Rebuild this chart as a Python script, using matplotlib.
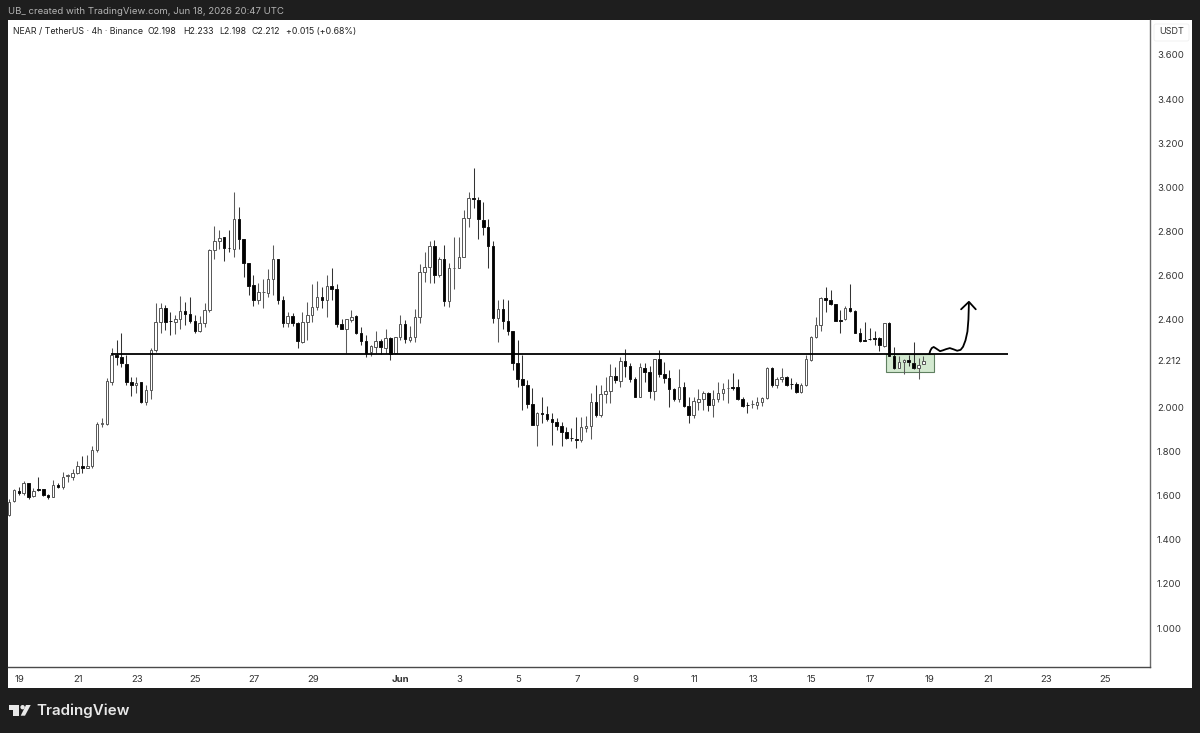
import matplotlib
matplotlib.use("Agg")
import matplotlib.pyplot as plt
from matplotlib.patches import Rectangle, Polygon, Circle, FancyBboxPatch

opens = [1.513,1.576,1.623,1.611,1.656,1.599,1.629,1.629,1.604,1.596,1.649,1.641,1.690,1.687,1.702,1.735,1.725,1.737,1.808,1.926,
1.926,2.118,2.239,2.228,2.196,2.116,2.103,2.115,2.024,2.080,2.261,2.390,2.450,2.393,2.390,2.400,2.438,2.425,2.394,2.348,
2.382,2.443,2.715,2.757,2.773,2.726,2.720,2.854,2.764,2.655,2.555,2.488,2.524,2.522,2.582,2.673,2.488,2.382,2.416,2.385,
2.299,2.390,2.420,2.458,2.500,2.488,2.553,2.540,2.379,2.357,2.397,2.416,2.340,2.304,2.254,2.277,2.304,2.272,2.314,2.246,
2.322,2.379,2.307,2.322,2.410,2.617,2.639,2.733,2.602,2.673,2.485,2.632,2.632,2.682,2.859,2.949,2.942,2.851,2.818,2.733,
2.405,2.447,2.393,2.349,2.201,2.128,2.103,2.016,1.921,1.974,1.969,1.947,1.936,1.918,1.888,1.861,1.859,1.853,1.909,1.918,
2.024,1.966,2.060,2.077,2.143,2.122,2.213,2.189,2.130,2.050,2.181,2.160,2.077,2.219,2.151,2.136,2.083,2.037,2.095,2.009,
1.968,2.025,2.037,2.065,2.012,2.039,2.065,2.087,2.091,2.092,2.037,2.012,2.016,2.012,2.024,2.042,2.181,2.102,2.128,2.140,
2.108,2.109,2.069,2.102,2.216,2.319,2.375,2.496,2.488,2.469,2.398,2.400,2.450,2.438,2.340,2.307,2.313,2.314,2.314,2.281,
2.382,2.234,2.181,2.207,2.216,2.204,2.178,2.198]
highs = [1.584,1.629,1.638,1.669,1.659,1.634,1.687,1.632,1.607,1.672,1.659,1.709,1.699,1.720,1.758,1.780,1.785,1.826,1.933,1.951,
2.133,2.269,2.307,2.337,2.239,2.140,2.137,2.118,2.103,2.272,2.473,2.473,2.466,2.435,2.420,2.508,2.481,2.503,2.420,2.417,
2.473,2.718,2.824,2.806,2.776,2.806,2.977,2.912,2.764,2.655,2.602,2.564,2.582,2.627,2.738,2.673,2.506,2.435,2.428,2.390,
2.435,2.481,2.561,2.576,2.549,2.602,2.632,2.561,2.400,2.400,2.443,2.420,2.367,2.329,2.284,2.349,2.310,2.355,2.322,2.322,
2.420,2.397,2.370,2.447,2.652,2.708,2.756,2.760,2.685,2.738,2.658,2.773,2.773,2.897,2.977,3.089,2.954,2.934,2.854,2.756,
2.488,2.491,2.488,2.349,2.307,2.239,2.125,2.087,1.981,2.047,2.007,1.974,1.951,1.936,1.913,1.906,1.956,1.959,1.962,2.068,
2.103,2.103,2.140,2.198,2.183,2.228,2.264,2.201,2.140,2.204,2.201,2.189,2.219,2.261,2.205,2.171,2.087,2.174,2.115,2.047,
2.050,2.083,2.077,2.069,2.080,2.118,2.113,2.128,2.155,2.128,2.050,2.027,2.034,2.050,2.050,2.186,2.186,2.140,2.178,2.143,
2.133,2.118,2.113,2.239,2.325,2.412,2.503,2.546,2.534,2.470,2.443,2.461,2.561,2.443,2.360,2.387,2.360,2.349,2.319,2.385,
2.387,2.276,2.234,2.219,2.238,2.299,2.223,2.233]
lows = [1.510,1.573,1.604,1.604,1.584,1.593,1.623,1.599,1.584,1.593,1.635,1.632,1.664,1.672,1.699,1.705,1.725,1.725,1.800,1.914,
1.921,2.103,2.193,2.186,2.103,2.053,2.065,2.019,2.012,2.039,2.254,2.340,2.352,2.329,2.334,2.355,2.375,2.382,2.340,2.341,
2.367,2.432,2.673,2.718,2.665,2.708,2.682,2.718,2.591,2.511,2.461,2.470,2.453,2.500,2.511,2.470,2.367,2.364,2.370,2.269,
2.292,2.307,2.390,2.443,2.450,2.410,2.488,2.364,2.355,2.249,2.390,2.334,2.284,2.231,2.234,2.249,2.243,2.249,2.216,2.243,
2.307,2.292,2.299,2.299,2.385,2.571,2.564,2.564,2.594,2.462,2.458,2.537,2.632,2.682,2.821,2.904,2.763,2.783,2.632,2.382,
2.296,2.355,2.329,2.171,2.095,1.989,1.997,1.921,1.826,1.929,1.941,1.830,1.898,1.827,1.858,1.850,1.815,1.845,1.888,1.858,
1.956,1.956,2.019,2.019,2.110,2.095,2.140,2.118,2.047,2.050,2.118,2.042,2.034,2.140,2.110,2.001,2.031,2.027,2.004,1.932,
1.951,1.989,1.989,1.986,1.959,2.027,2.034,2.022,2.080,2.034,2.004,1.977,2.000,1.992,2.007,2.039,2.095,2.087,2.118,2.098,
2.083,2.065,2.065,2.098,2.213,2.314,2.349,2.435,2.465,2.394,2.340,2.398,2.435,2.337,2.299,2.302,2.307,2.284,2.258,2.276,
2.234,2.174,2.178,2.151,2.189,2.174,2.130,2.198]
closes = [1.573,1.626,1.611,1.656,1.596,1.623,1.626,1.604,1.596,1.649,1.641,1.687,1.691,1.702,1.737,1.725,1.737,1.808,1.926,1.927,
2.121,2.239,2.231,2.201,2.118,2.104,2.113,2.027,2.080,2.261,2.390,2.450,2.387,2.392,2.400,2.438,2.425,2.394,2.348,2.382,
2.441,2.715,2.757,2.771,2.723,2.723,2.854,2.764,2.655,2.552,2.488,2.523,2.525,2.582,2.673,2.488,2.382,2.416,2.385,2.302,
2.390,2.420,2.458,2.500,2.488,2.553,2.540,2.379,2.357,2.400,2.413,2.340,2.304,2.246,2.280,2.304,2.277,2.314,2.243,2.322,
2.379,2.310,2.322,2.410,2.617,2.639,2.733,2.602,2.673,2.485,2.632,2.633,2.682,2.859,2.949,2.945,2.854,2.818,2.733,2.405,
2.447,2.393,2.349,2.201,2.128,2.103,2.016,1.921,1.974,1.969,1.947,1.936,1.918,1.888,1.864,1.860,1.853,1.910,1.918,2.024,
1.966,2.060,2.075,2.145,2.125,2.213,2.189,2.128,2.050,2.183,2.160,2.077,2.219,2.151,2.136,2.083,2.037,2.095,2.009,1.968,
2.028,2.037,2.065,2.012,2.039,2.068,2.083,2.088,2.090,2.037,2.007,2.011,2.017,2.027,2.042,2.181,2.102,2.130,2.140,2.102,
2.107,2.069,2.102,2.219,2.319,2.375,2.496,2.488,2.469,2.394,2.394,2.450,2.438,2.340,2.302,2.304,2.310,2.313,2.284,2.382,
2.236,2.178,2.208,2.216,2.207,2.178,2.193,2.212]

price_ticks = [3.6, 3.4, 3.2, 3.0, 2.8, 2.6, 2.4, 2.212, 2.0, 1.8, 1.6, 1.4, 1.2, 1.0]
date_ticks = [2.15, 14.15, 26.15, 38.15, 50.15, 62.15, 80.15, 92.15, 104.15, 116.15, 128.15, 140.15, 152.15, 164.15, 176.15, 188.15, 200.15, 212.15, 224.15]
date_labels = ["19", "21", "23", "25", "27", "29", "Jun", "3", "5", "7", "9", "11", "13", "15", "17", "19", "21", "23", "25"]

level_price = 2.243
level_span = [20.8, 204.3]
box_span = [179.3, 189.2]
box_prices = [2.1615, 2.243]
squiggle_i = [188.2, 188.4, 188.7, 189.1, 189.6, 190.4, 191.0, 191.6, 192.4, 193.2, 193.9, 194.6, 195.1, 195.6, 196.0, 196.2, 196.3]
squiggle_p = [2.243, 2.258, 2.270, 2.275, 2.268, 2.256, 2.260, 2.265, 2.270, 2.264, 2.258, 2.262, 2.276, 2.305, 2.345, 2.400, 2.473]
head_i = [194.7, 196.3, 197.7]
head_p = [2.446, 2.480, 2.446]

title = "UB_ created with TradingView.com, Jun 18, 2026 20:47 UTC"
legend = "NEAR / TetherUS · 4h · Binance"
legend_ohlc = ["O2.198", "H2.233", "L2.198", "C2.212", "+0.015 (+0.68%)"]

plt.rcParams['font.family'] = ['Inter', 'DejaVu Sans']
W, H = 1200, 733
DARK = "#1e1e1e"
fig = plt.figure(figsize=(12, 7.33), dpi=100, facecolor=DARK)

# full-figure pixel layer for the frame and branding
bg = fig.add_axes([0, 0, 1, 1], zorder=0)
bg.set_xlim(0, W); bg.set_ylim(H, 0); bg.axis("off")
bg.add_patch(Rectangle((8, 20), 1184, 668, fc="white", ec="none"))
bg.text(8, 11.5, title, color="#b4b4b4", fontsize=6.9, va="center", ha="left")
bg.add_patch(Polygon([(9, 705), (19.3, 705), (19.3, 715.7), (13.3, 715.7), (13.3, 710), (9, 710)], fc="#e8e8e8", ec="none"))
bg.add_patch(Circle((22.6, 707.2), 2.2, fc="#e8e8e8", ec="none"))
bg.add_patch(Polygon([(20.7, 715.7), (26, 705), (30.7, 705), (25, 715.7)], fc="#e8e8e8", ec="none"))
bg.text(36, 711, "TradingView", color="#e8e8e8", fontsize=10.9, fontweight="semibold", va="center", ha="left")

# chart panel
L, R, T, B = 8, 1150, 20, 667
ax = fig.add_axes([L / W, 1 - B / H, (R - L) / W, (B - T) / H], zorder=1)
ax.patch.set_alpha(0)
ax.set_xlim((L - 9) / 4.89, (R - 9) / 4.89)
ax.set_ylim(1 + (628 - B) / 220.4, 1 + (628 - T) / 220.4)

ax.add_patch(Rectangle((box_span[0], box_prices[0]), box_span[1] - box_span[0], box_prices[1] - box_prices[0],
                       fc="#d3e9d0", ec="#5f7f60", lw=0.8, zorder=1))

for i, (o, h, l, c) in enumerate(zip(opens, highs, lows, closes)):
    up = c >= o
    col = "#555555" if up else "#111111"
    ax.vlines(i, l, h, color="#5a5a5a" if up else "#333333", lw=0.75, zorder=2)
    ax.add_patch(Rectangle((i - 0.26, min(o, c)), 0.52, max(abs(c - o), 0.002),
                           fc="white" if up else "black", ec=col, lw=0.7, zorder=3))

ax.hlines(level_price, level_span[0], level_span[1], color="black", lw=1.3, zorder=4)
ax.plot(squiggle_i, squiggle_p, color="black", lw=1.3, zorder=5, solid_capstyle="round", solid_joinstyle="round")
ax.plot(head_i, head_p, color="black", lw=1.3, zorder=5, solid_capstyle="round")

ax.yaxis.tick_right()
ax.set_yticks(price_ticks)
ax.set_yticklabels(["%.3f" % p for p in price_ticks], fontsize=6.9, color="#333333")
ax.set_xticks(date_ticks)
ax.set_xticklabels(date_labels, fontsize=6.9, color="#333333")
for t, lab in zip(ax.get_xticklabels(), date_labels):
    if lab == "Jun":
        t.set_fontweight("bold")
ax.tick_params(axis="y", length=0, pad=5)
ax.tick_params(axis="x", length=0, pad=6)
for s in ("top", "left"):
    ax.spines[s].set_visible(False)
ax.spines["right"].set_color("#6a6a6a"); ax.spines["right"].set_linewidth(1.0)
ax.spines["bottom"].set_color("#4a4a4a"); ax.spines["bottom"].set_linewidth(1.0)

# top layer: legend row and currency tag
top = fig.add_axes([0, 0, 1, 1], zorder=2)
top.set_xlim(0, W); top.set_ylim(H, 0); top.axis("off")
top.text(13, 31.5, legend, color="#222222", fontsize=6.35, va="center", ha="left")
for x, s in zip([148, 183, 219, 252, 286], legend_ohlc):
    top.text(x, 31.5, s, color="#222222", fontsize=6.35, va="center", ha="left")
top.add_patch(FancyBboxPatch((1154, 24), 35, 17, boxstyle="round,pad=0,rounding_size=2", fc="white", ec="#efefef", lw=0.6))
top.text(1171.5, 32, "USDT", color="#333333", fontsize=6.5, va="center", ha="center")

fig.savefig("out.png", dpi=100, facecolor=DARK)
